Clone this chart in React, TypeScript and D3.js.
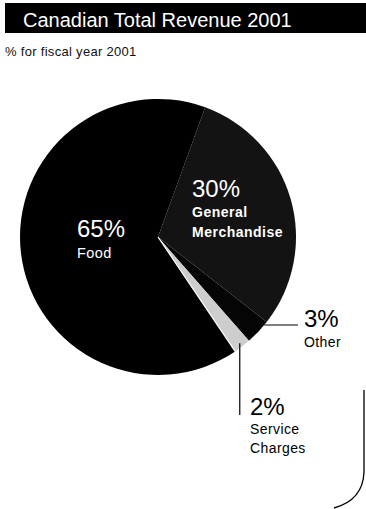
import React from "react";
import * as d3 from "d3";

const categories = ["General Merchandise", "Other", "Service Charges", "Food"];
const values = [30, 3, 2, 65];
const colors = ["#131313", "#050505", "#cdcdcd", "#000000"];

const W = 366;
const H = 509;
const cx = 158;
const cy = 237;
const R = 138;
const START = (20 * Math.PI) / 180;

export default function App() {
  const pie = d3
    .pie<number>()
    .sort(null)
    .value((d) => d)
    .startAngle(START)
    .endAngle(START + 2 * Math.PI);
  const arcs = pie(values);
  const arc = d3.arc<d3.PieArcDatum<number>>().innerRadius(0).outerRadius(R);

  const service = arcs[2];
  const boundary = d3.pointRadial(service.endAngle, R);
  const svcMid = (service.startAngle + service.endAngle) / 2;
  const svcPt = d3.pointRadial(svcMid, R - 4);
  const otherY = 325;
  const otherX = Math.sqrt(R * R - (otherY - cy) * (otherY - cy));

  const font = "'Liberation Sans', Arial, Helvetica, sans-serif";

  return (
    <svg
      width={W}
      height={H}
      style={{ position: "absolute", left: 0, top: 0, background: "#fff" }}
      fontFamily={font}
    >
      <rect x={5} y={3} width={361} height={30} fill="#000" />
      <text x={23} y={26.5} fontSize={20} fill="#fff">
        Canadian Total Revenue 2001
      </text>
      <text x={5} y={56} fontSize={13} letterSpacing={0.3} fill="#111">
        % for fiscal year 2001
      </text>

      <g transform={`translate(${cx},${cy})`}>
        {arcs.map((a, i) => (
          <path key={categories[i]} d={arc(a) ?? ""} fill={colors[i]} />
        ))}
        <line x1={0} y1={0} x2={boundary[0]} y2={boundary[1]} stroke="#fff" strokeWidth={1.2} />
        <line
          x1={otherX}
          y1={otherY - cy}
          x2={298 - cx}
          y2={otherY - cy}
          stroke="#000"
          strokeWidth={1.2}
        />
        <line
          x1={svcPt[0]}
          y1={svcPt[1]}
          x2={svcPt[0]}
          y2={415 - cy}
          stroke="#000"
          strokeWidth={1.2}
        />
      </g>

      <text x={77} y={237} fontSize={24} fill="#fff">65%</text>
      <text x={77} y={258} fontSize={14.5} fill="#fff" letterSpacing={0.4}>Food</text>

      <text x={192} y={197} fontSize={24} fill="#fff">30%</text>
      <text x={192} y={217} fontSize={14} fontWeight={600} fill="#fff" letterSpacing={0.5}>General</text>
      <text x={192} y={237} fontSize={14} fontWeight={600} fill="#fff" letterSpacing={0.5}>Merchandise</text>

      <text x={304} y={327} fontSize={24} fill="#000">3%</text>
      <text x={304} y={347} fontSize={14} fill="#000" letterSpacing={0.4}>Other</text>

      <text x={250} y={415} fontSize={24} fill="#000">2%</text>
      <text x={250} y={434} fontSize={14} fill="#000" letterSpacing={0.4}>Service</text>
      <text x={250} y={453} fontSize={14} fill="#000" letterSpacing={0.4}>Charges</text>

      <path d="M 364 390 L 364 472 Q 363 500 334 508" fill="none" stroke="#000" strokeWidth={1.3} />
    </svg>
  );
}
